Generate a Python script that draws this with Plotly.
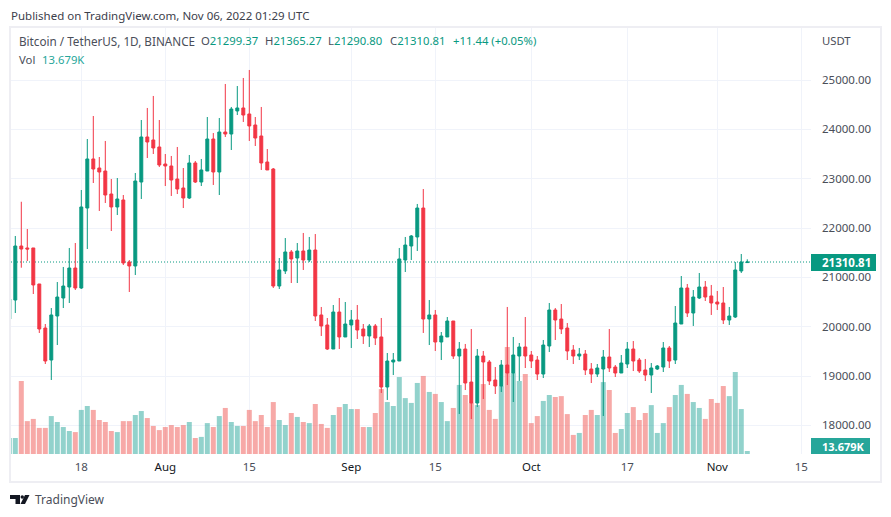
import pandas as pd
import plotly.graph_objects as go

# page adds an 8px body margin, figure is sized and placed to sit inside it
PAGE_W, PAGE_H = 891, 517
W, H = PAGE_W - 16, PAGE_H - 16
UP = '#089981'
DOWN = '#F23645'
VOL_UP = 'rgba(38,166,154,0.5)'
VOL_DOWN = 'rgba(239,83,80,0.5)'
GRID = '#f0f3fa'
FRAME = '#eeeef3'
TXT = '#4a4e59'
FONT = 'Noto Sans'

# BTC/USDT daily candles, 6 Jul 2022 .. 6 Nov 2022
opens = [20155, 20540, 21635, 21595, 21595, 20865, 19973, 19324, 20216, 20581, 20804, 21189, 20784, 22405, 23399, 23216,
         23155, 22689, 22426, 22568, 21311, 21230, 22932, 23845, 23784, 23642, 23297, 23257, 22993, 22811, 22608, 23318,
         22932, 23155, 23804, 23135, 23946, 23905, 24372, 24433, 24311, 24088, 23865, 23338, 23196, 20824, 21129, 21514,
         21392, 21534, 21351, 21554, 20237, 20034, 19547, 20297, 19791, 20034, 20135, 19953, 19811, 20014, 19791, 18777,
         19284, 19304, 21351, 21635, 21818, 22405, 20155, 20237, 19689, 19791, 20115, 19405, 19547, 18878, 18453, 19405,
         19284, 18919, 18797, 19223, 19061, 19405, 19588, 19426, 19324, 19040, 19608, 20338, 20155, 19973, 19527, 19405,
         19446, 19142, 19040, 19142, 19385, 19182, 19061, 19243, 19547, 19324, 19122, 19020, 19142, 19182, 19568, 19324,
         20054, 20784, 20277, 20581, 20804, 20622, 20500, 20480, 20135, 20196, 21129, 21299.37]
highs = [20561, 21838, 22532, 21980, 21595, 20865, 20054, 20378, 20905, 21210, 21595, 21696, 22770, 23804, 24270, 23439,
         23764, 22993, 23013, 22669, 21351, 23115, 24189, 24433, 24676, 24189, 23500, 23460, 23642, 23216, 23480, 23358,
         23399, 24250, 23925, 24230, 24919, 24453, 24878, 25041, 25203, 24250, 24453, 23601, 23216, 21392, 21797, 21554,
         21696, 21899, 21818, 21878, 20399, 20176, 20439, 20581, 20500, 20338, 20439, 20054, 20054, 20054, 20176, 19466,
         19466, 21595, 21818, 21858, 22487, 22790, 20540, 20338, 19892, 20196, 20115, 19689, 19649, 19953, 19547, 19507,
         19324, 19182, 19324, 20399, 19791, 19669, 20196, 19507, 19405, 19730, 20480, 20378, 20459, 20074, 19628, 19568,
         19527, 19263, 19243, 19527, 19953, 19223, 19426, 19689, 19709, 19365, 19345, 19263, 19223, 19689, 19608, 20419,
         21027, 20865, 20743, 21088, 20926, 20845, 20723, 20804, 20399, 21311, 21473, 21365.27]
lows = [20155, 20277, 21195, 21331, 20662, 19872, 19243, 18919, 19628, 20378, 20480, 20743, 20764, 21574, 22912, 22345,
        22507, 21939, 22263, 21250, 20703, 21047, 22588, 23419, 23500, 23236, 22851, 22649, 22689, 22405, 22588, 22912,
        22851, 23155, 22872, 22669, 23845, 23581, 24290, 24149, 23764, 23662, 23176, 23176, 20784, 20764, 21068, 20885,
        20885, 21149, 21311, 20115, 19811, 19527, 19547, 19547, 19791, 19568, 19750, 19649, 19588, 19628, 18656, 18514,
        19020, 19304, 21108, 21351, 21534, 19872, 19628, 19507, 19324, 19791, 19345, 18230, 18716, 18128, 18372, 18534,
        18817, 18635, 18676, 18817, 18473, 18899, 19162, 19162, 18919, 18959, 19486, 19730, 19851, 19324, 19243, 19324,
        19020, 18858, 18980, 18189, 19081, 18980, 19061, 19162, 19101, 19061, 18899, 18656, 19122, 19081, 19162, 19243,
        20054, 20196, 20014, 20561, 20520, 20237, 20338, 20054, 20034, 20176, 21088, 21290.80]
closes = [20561, 21635, 21574, 21574, 20845, 19953, 19304, 20237, 20601, 20824, 21189, 20784, 22426, 23399, 23196, 23135,
          22669, 22426, 22588, 21291, 21230, 22953, 23845, 23743, 23622, 23277, 23257, 22973, 22790, 22608, 23318, 22932,
          23176, 23804, 23135, 23946, 23905, 24412, 24433, 24290, 24068, 23824, 23318, 23176, 20824, 21149, 21514, 21372,
          21534, 21351, 21554, 20216, 20014, 19547, 20297, 19791, 20054, 20135, 19932, 19811, 20014, 19770, 18777, 19304,
          19324, 21372, 21655, 21838, 22405, 20155, 20237, 19689, 19811, 20115, 19405, 19547, 18858, 18453, 19405, 19284,
          18899, 18797, 19223, 19061, 19426, 19588, 19405, 19304, 19040, 19628, 20338, 20135, 19953, 19507, 19405, 19446,
          19122, 19040, 19162, 19385, 19162, 19061, 19263, 19547, 19304, 19101, 19020, 19162, 19203, 19568, 19304, 20074,
          20784, 20277, 20601, 20804, 20601, 20480, 20459, 20135, 20216, 21149, 21311, 21310.81]
# volume in thousands
volumes = [73, 73, 333, 150, 160, 119, 119, 173, 146, 123, 105, 100, 201, 219, 201, 155, 146, 105, 100, 150, 150, 178,
           196, 164, 128, 109, 123, 132, 123, 132, 146, 73, 78, 141, 123, 173, 210, 146, 128, 128, 201, 150, 178, 123,
           237, 155, 132, 187, 169, 146, 141, 228, 137, 119, 178, 214, 228, 205, 205, 123, 123, 187, 296, 237, 219, 351,
           255, 233, 324, 356, 283, 274, 237, 150, 210, 315, 269, 233, 223, 319, 201, 160, 310, 488, 369, 333, 365, 141,
           173, 242, 269, 260, 264, 182, 87, 96, 178, 201, 178, 328, 292, 96, 114, 187, 214, 155, 187, 223, 96, 141, 214,
           269, 315, 274, 237, 210, 160, 251, 233, 310, 264, 374, 205, 13.679]
dates = pd.date_range('2022-07-06', periods=len(closes), freq='D')

price_ticks = [18000, 19000, 20000, 21000, 22000, 23000, 24000, 25000]
time_vals = ['2022-07-18', '2022-08-01', '2022-08-15', '2022-09-01', '2022-09-15', '2022-10-01', '2022-10-17',
             '2022-11-01', '2022-11-15']
dark = '<span style="color:#131722">%s</span>'
time_text = ['18', dark % 'Aug', '15', dark % 'Sep', '15', dark % 'Oct', '17', dark % 'Nov', '15']
last_close = closes[-1]


def px(x):
    return (x - 8) / W


def py(y):
    return 1 - (y - 8) / H


vol_colors = [VOL_UP if c >= o else VOL_DOWN for o, c in zip(opens, closes)]

fig = go.Figure()
fig.add_trace(go.Bar(x=dates, y=volumes, marker_color=vol_colors, marker_line_width=0, yaxis='y', showlegend=False))
fig.add_trace(go.Candlestick(x=dates, open=opens, high=highs, low=lows, close=closes, yaxis='y2', showlegend=False,
                             increasing=dict(line=dict(color=UP, width=1), fillcolor=UP),
                             decreasing=dict(line=dict(color=DOWN, width=1), fillcolor=DOWN)))

fig.update_layout(
    width=W, height=H, margin=dict(l=0, r=0, t=0, b=0), autosize=False,
    paper_bgcolor='white', plot_bgcolor='white', bargap=1 / 6, boxgap=0.3,
    font=dict(family=FONT, size=11.5, color=TXT),
    xaxis=dict(domain=[px(11), px(811)], type='date', range=['2022-07-06 06:48', '2022-11-16 14:52'],
               rangeslider=dict(visible=False), tickmode='array', tickvals=time_vals, ticktext=time_text,
               showgrid=True, gridcolor=GRID, gridwidth=1, zeroline=False, showline=False, ticks='',
               ticklabelstandoff=4, tickfont=dict(size=11.5, color=TXT)),
    yaxis=dict(domain=[py(454), py(28)], range=[0, 1943], visible=False, showgrid=False, zeroline=False),
    yaxis2=dict(domain=[py(454), py(28)], overlaying='y', side='right', anchor='x', range=[17419, 26054],
                tickmode='array', tickvals=price_ticks, ticktext=[f'{v:.2f}' for v in price_ticks],
                showgrid=True, gridcolor=GRID, gridwidth=1, zeroline=False, showline=False, ticks='',
                ticklabelstandoff=10, tickfont=dict(size=11.5, color=TXT)),
)

# outer frame and last price line
fig.add_shape(type='rect', xref='paper', yref='paper', x0=px(10), x1=px(881), y0=py(482), y1=py(27),
              line=dict(color=FRAME, width=2), layer='below')
fig.add_shape(type='line', xref='x domain', yref='y2', x0=0, x1=1, y0=last_close, y1=last_close,
              line=dict(color=UP, width=1, dash='1px,2px'), layer='below')
# price and volume tags
fig.add_shape(type='rect', xref='paper', yref='paper', x0=px(811), x1=px(876), y0=py(271), y1=py(254),
              fillcolor=UP, line_width=0)
fig.add_shape(type='rect', xref='paper', yref='paper', x0=px(811), x1=px(870), y0=py(454), y1=py(438),
              fillcolor='#26A69A', line_width=0)
# logo
fig.add_shape(type='path', xref='paper', yref='paper', fillcolor='#131722', line_width=0,
              path=f'M {px(10)} {py(495)} L {px(20)} {py(495)} L {px(20)} {py(504)} L {px(15.5)} {py(504)} '
                   f'L {px(15.5)} {py(499)} L {px(10)} {py(499)} Z')
fig.add_shape(type='circle', xref='paper', yref='paper', fillcolor='#131722', line_width=0,
              x0=px(20.5), x1=px(24), y0=py(498.7), y1=py(495.2))
fig.add_shape(type='path', xref='paper', yref='paper', fillcolor='#131722', line_width=0,
              path=f'M {px(25)} {py(495)} L {px(29.5)} {py(495)} L {px(25)} {py(504)} L {px(20.5)} {py(504)} Z')


def label(x, y, text, size=11.3, color=TXT, anchor='left'):
    fig.add_annotation(x=px(x), y=py(y), xref='paper', yref='paper', text=text, showarrow=False, xanchor=anchor,
                       yanchor='middle', align='left', borderpad=0, font=dict(family=FONT, size=size, color=color))


def teal(s):
    return f'<span style="color:{UP}">{s}</span>'


label(10, 16, 'Published on TradingView.com, Nov 06, 2022 01:29 UTC', 11.5, '#3c404b')
label(18, 41, 'Bitcoin / TetherUS, 1D, BINANCE', 11.7)
label(200, 41, 'O' + teal('21299.37'))
label(263.5, 41, 'H' + teal('21365.27'))
label(327, 41, 'L' + teal('21290.80'))
label(388.5, 41, 'C' + teal('21310.81'))
label(452, 41, teal('+11.44 (+0.05%)'))
label(18, 59, 'Vol')
label(41, 59, '13.679K', color='#26A69A')
label(821, 41, 'USDT')
label(821, 262.5, '<b>21310.81</b>', 11.5, 'white')
label(821, 446.5, '<b>13.679K</b>', 11, 'white')
label(34, 499.5, 'TradingView', 12, '#4a4e59')

fig.write_html("out.html")
